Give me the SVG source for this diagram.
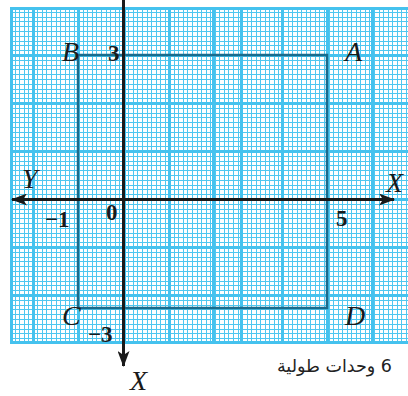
<svg xmlns="http://www.w3.org/2000/svg" width="408" height="396" viewBox="0 0 408 396">
<style>
.fine{stroke:#4fc7f0;stroke-width:1;fill:none;shape-rendering:crispEdges}
.thick{stroke:#45c2ee;stroke-width:3;fill:none;shape-rendering:crispEdges}
.rect{stroke:#1a6b8c;stroke-width:2.5;fill:none}
.axis{stroke:#1a1a1a;stroke-width:3;fill:none}
.lbl{font-family:"Liberation Serif",serif;font-style:italic;font-size:28px;fill:#1a1a1a}
.num{font-family:"Liberation Serif",serif;font-weight:bold;font-size:23px;fill:#1a1a1a}
.ar{font-family:"DejaVu Sans",sans-serif;font-size:17.5px;fill:#222}
</style>
<defs>
<marker id="ah" viewBox="0 0 16 12" refX="15" refY="6" markerWidth="16" markerHeight="12" markerUnits="userSpaceOnUse" orient="auto">
<path d="M0 0L16 6L0 12L4 6Z" fill="#1a1a1a"/>
</marker>
</defs>
<rect width="408" height="396" fill="#fff"/>
<g id="grid">
<path class="fine" d="M10.5 7V343M15.5 7V343M19.5 7V343M24.5 7V343M28.5 7V343M33.5 7V343M37.5 7V343M42.5 7V343M46.5 7V343M51.5 7V343M56.5 7V343M60.5 7V343M65.5 7V343M69.5 7V343M74.5 7V343M78.5 7V343M83.5 7V343M87.5 7V343M92.5 7V343M96.5 7V343M101.5 7V343M106.5 7V343M110.5 7V343M115.5 7V343M119.5 7V343M124.5 7V343M128.5 7V343M133.5 7V343M137.5 7V343M142.5 7V343M147.5 7V343M151.5 7V343M156.5 7V343M160.5 7V343M165.5 7V343M169.5 7V343M174.5 7V343M178.5 7V343M183.5 7V343M187.5 7V343M192.5 7V343M197.5 7V343M201.5 7V343M206.5 7V343M210.5 7V343M215.5 7V343M219.5 7V343M224.5 7V343M228.5 7V343M233.5 7V343M238.5 7V343M242.5 7V343M247.5 7V343M251.5 7V343M256.5 7V343M260.5 7V343M265.5 7V343M269.5 7V343M274.5 7V343M278.5 7V343M283.5 7V343M288.5 7V343M292.5 7V343M297.5 7V343M301.5 7V343M306.5 7V343M310.5 7V343M315.5 7V343M319.5 7V343M324.5 7V343M329.5 7V343M333.5 7V343M338.5 7V343M342.5 7V343M347.5 7V343M351.5 7V343M356.5 7V343M360.5 7V343M365.5 7V343M369.5 7V343M374.5 7V343M379.5 7V343M383.5 7V343M388.5 7V343M392.5 7V343M397.5 7V343M401.5 7V343M406.5 7V343"/>
<path class="fine" d="M10 7.5H408M10 12.5H408M10 17.5H408M10 21.5H408M10 26.5H408M10 31.5H408M10 36.5H408M10 41.5H408M10 45.5H408M10 50.5H408M10 55.5H408M10 60.5H408M10 65.5H408M10 69.5H408M10 74.5H408M10 79.5H408M10 84.5H408M10 89.5H408M10 93.5H408M10 98.5H408M10 103.5H408M10 108.5H408M10 113.5H408M10 117.5H408M10 122.5H408M10 127.5H408M10 132.5H408M10 137.5H408M10 141.5H408M10 146.5H408M10 151.5H408M10 156.5H408M10 161.5H408M10 165.5H408M10 170.5H408M10 175.5H408M10 180.5H408M10 185.5H408M10 189.5H408M10 194.5H408M10 199.5H408M10 204.5H408M10 209.5H408M10 213.5H408M10 218.5H408M10 223.5H408M10 228.5H408M10 233.5H408M10 237.5H408M10 242.5H408M10 247.5H408M10 252.5H408M10 257.5H408M10 261.5H408M10 266.5H408M10 271.5H408M10 276.5H408M10 281.5H408M10 285.5H408M10 290.5H408M10 295.5H408M10 300.5H408M10 305.5H408M10 309.5H408M10 314.5H408M10 319.5H408M10 324.5H408M10 329.5H408M10 333.5H408M10 338.5H408M10 342.5H408"/>
<path class="thick" d="M33.5 7V343M78.5 7V343M124.5 7V343M169.5 7V343M213.5 7V343M241.5 7V343M282.5 7V343M327.5 7V343M372.5 7V343M10 55.5H408M10 103.5H408M10 151.5H408M10 199.5H408M10 247.5H408M10 295.5H408M10 342H408M10 8H408M11 7V343"/>
</g>
<g id="rectangle">
<rect class="rect" x="78" y="55" width="249" height="253"/>
</g>
<g id="connectors">
<path class="axis" d="M123.5 0V366" marker-end="url(#ah)"/>
<path class="axis" d="M20 199.5H394" marker-end="url(#ah)"/>
<path class="axis" d="M30 199.5H12" marker-end="url(#ah)"/>
</g>
<g id="labels">
<text class="lbl" x="62" y="61">B</text>
<text class="num" x="108" y="61">3</text>
<text class="lbl" x="345" y="61">A</text>
<text class="lbl" x="22" y="188">Y</text>
<text class="lbl" x="386" y="192">X</text>
<text class="num" x="45" y="227">−1</text>
<text class="num" x="106" y="220">0</text>
<text class="num" x="336" y="226">5</text>
<text class="lbl" x="62" y="325">C</text>
<text class="num" x="88" y="342">−3</text>
<text class="lbl" x="345" y="325">D</text>
<text class="lbl" x="130" y="390">X</text>
<text class="ar" x="392" y="372" text-anchor="end">&#8207;6 وحدات طولية</text>
</g>
</svg>
